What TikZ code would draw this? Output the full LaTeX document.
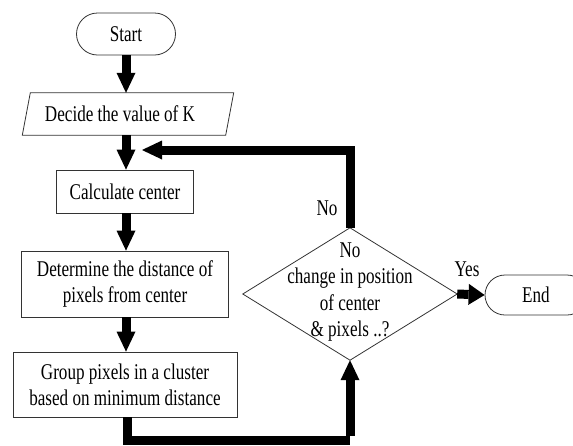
\documentclass[tikz,border=0pt]{standalone}
\usepackage{fontspec}
\setmainfont{Liberation Serif}[FakeStretch=0.76]
\usetikzlibrary{arrows.meta,shapes.misc,positioning}
\tikzset{
  every node/.append style={font=\fontsize{22.5pt}{26pt}\selectfont, inner sep=0pt},
  shapeline/.style={draw=black!80, line width=0.8pt},
  procbox/.style={shapeline, rectangle, align=center},
  term/.style={shapeline, rounded rectangle, minimum width=99pt, minimum height=42pt},
  bigarrow/.style={line width=9pt, line join=miter, draw=black,
    -{Triangle[length=20pt,width=19pt,line width=0pt]}},
  bigline/.style={line width=9pt, line join=miter, draw=black},
}
\begin{document}
\begin{tikzpicture}[x=1pt,y=-1pt]
\useasboundingbox (0,0) rectangle (573,445);
\clip (0,0) rectangle (573,445);
% nodes
\node[term] (start) at (126,34) {Start};
\node[minimum width=203pt, minimum height=42pt] (decide) at (128,114) {};
\node (decidetext) at (120,114) {Decide the value of K};
\draw[shapeline] ([xshift=4pt]decide.north west) -- ([xshift=4pt]decide.north east)
  -- ([xshift=-4pt]decide.south east) -- ([xshift=-4pt]decide.south west) -- cycle;
\node[procbox, minimum width=137pt, minimum height=43pt] (calc) at (125,191.5) {Calculate center};
\node[procbox, minimum width=207pt, minimum height=66pt] (det) at (125,284) {Determine the distance of\\pixels from center};
\node[procbox, minimum width=224pt, minimum height=65pt] (group) at (125,384.5) {Group pixels in a cluster\\based on minimum distance};
% decision
\node[minimum width=214pt, minimum height=132pt] (dec) at (350,294) {};
\coordinate (dtop) at (dec.north);
\coordinate (dbot) at (dec.south);
\coordinate (dleft) at (dec.west);
\coordinate (dright) at (dec.east);
\draw[shapeline] (dtop) -- (dright) -- (dbot) -- (dleft) -- cycle;
\node[align=center, font=\fontsize{22.5pt}{26.5pt}\selectfont] (dectext) at (350,292) {No\\change in position\\of center\\ \& pixels ..?};
\node[term, minimum width=102pt, minimum height=40pt] (endn) at (536,295) {End};
% labels
\node (nolabel) at (327,208) {No};
\node (yeslabel) at (467,269) {Yes};
% connectors
\coordinate (fbk) at (142,150);
\coordinate (loopb) at (350,440);
\draw[bigarrow] (start.south -| 126,0) -- (126,0 |- decide.north);
\draw[bigarrow] (126,0 |- decide.south) -- (126,0 |- calc.north);
\draw[bigarrow] (126,0 |- calc.south) -- (126,0 |- det.north);
\draw[bigarrow] (126,0 |- det.south) -- (126,0 |- group.north);
\draw[bigline] (127,0 |- group.south) |- (loopb);
\draw[bigarrow] ([yshift=4.5pt]loopb) -- (dbot);
\draw[bigarrow] (dtop) |- (fbk);
\draw[bigarrow, -{Triangle[length=16pt,width=21pt,line width=0pt]}] (dright) -- (endn.west);
\end{tikzpicture}
\end{document}
